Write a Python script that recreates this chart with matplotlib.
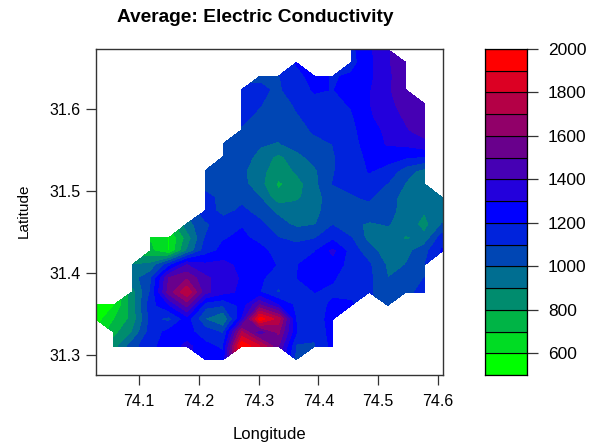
import numpy as np
import matplotlib
matplotlib.use('Agg')
import matplotlib.pyplot as plt

plt.rcParams['font.family'] = ['Liberation Sans', 'DejaVu Sans']

n = np.nan

lons = [74.028, 74.058, 74.089, 74.119, 74.150, 74.180, 74.211, 74.241, 74.272, 74.302,
        74.333, 74.363, 74.394, 74.424, 74.455, 74.485, 74.516, 74.546, 74.577, 74.607]
lats = [31.673, 31.657, 31.640, 31.624, 31.607, 31.591, 31.575, 31.558, 31.542, 31.525, 31.509, 31.492,
        31.476, 31.460, 31.443, 31.427, 31.410, 31.394, 31.377, 31.361, 31.344, 31.328, 31.311, 31.295]

# values, one row per latitude, top row first
ec = [
    [n, n, n, n, n, n, n, n, n, n, n, n, n, n, 1170, 1280, 1385, n, n, n],
    [n, n, n, n, n, n, n, n, n, n, n, 1205, n, n, 1160, 1270, 1385, 1470, n, n],
    [n, n, n, n, n, n, n, n, n, 1090, 1090, 1170, 1230, 1190, 1215, 1275, 1370, 1480, n, n],
    [n, n, n, n, n, n, n, n, 1110, 1110, 1090, 1130, 1215, 1195, 1240, 1290, 1380, 1480, n, n],
    [n, n, n, n, n, n, n, n, 1130, 1105, 1060, 1110, 1150, 1170, 1210, 1295, 1370, 1440, 1490, n],
    [n, n, n, n, n, n, n, n, 1120, 1080, 1050, 1090, 1130, 1150, 1185, 1280, 1360, 1410, 1480, n],
    [n, n, n, n, n, n, n, n, 1090, 1050, 1040, 1070, 1110, 1140, 1180, 1240, 1330, 1390, 1440, n],
    [n, n, n, n, n, n, n, 1040, 1060, 1010, 990, 1040, 1080, 1100, 1170, 1230, 1310, 1320, 1370, n],
    [n, n, n, n, n, n, n, 1040, 1040, 970, 870, 960, 1040, 1090, 1150, 1220, 1230, 1210, 1190, n],
    [n, n, n, n, n, n, 1070, 1040, 1020, 930, 840, 910, 980, 1095, 1130, 1205, 1170, 1040, 960, n],
    [n, n, n, n, n, n, 1060, 1040, 1030, 930, 780, 850, 970, 1100, 1120, 1170, 1090, 990, 920, n],
    [n, n, n, n, n, n, 1130, 1070, 1070, 1000, 830, 880, 950, 1060, 1090, 1110, 1040, 960, 910, 980],
    [n, n, n, n, n, n, 1150, 1060, 1120, 1060, 970, 950, 970, 1050, 1060, 1060, 1030, 960, 905, 970],
    [n, n, n, n, n, 950, 1080, 1150, 1190, 1120, 1040, 970, 990, 1090, 1020, 985, 1005, 960, 860, 1000],
    [n, n, n, 690, 590, 830, 1100, 1190, 1220, 1170, 1100, 1080, 1090, 1170, 1100, 960, 950, 885, 920, 1150],
    [n, n, n, 720, 590, 900, 1150, 1230, 1250, 1230, 1160, 1130, 1190, 1320, 1150, 1040, 940, 960, 1060, 1210],
    [n, n, 900, 920, 1150, 1400, 1320, 1330, 1270, 1250, 1190, 1190, 1270, 1260, 1150, 1110, 980, 1000, 1090, n],
    [n, n, 960, 1060, 1500, 1580, 1420, 1340, 1290, 1220, 1130, 1195, 1260, 1210, 1140, 1120, 998, 1050, 1100, n],
    [n, n, 850, 1100, 1540, 1780, 1430, 1330, 1280, 1200, 1080, 1195, 1200, 1180, 1180, 1110, 1040, 1080, 1120, n],
    [520, 590, 850, 1150, 1290, 1530, 1130, 1100, 1230, 1500, 1300, 1170, 1150, 1220, 1210, n, 1060, n, n, n],
    [540, 690, 830, 1120, 1060, 1240, 990, 880, 1300, 1950, 1750, 1180, 1160, 1230, n, n, n, n, n, n],
    [n, 760, 900, 1140, 1230, 1230, 1150, 1080, 1700, 1400, 1620, 1200, 1120, 1240, n, n, n, n, n, n],
    [n, 850, 1050, 1180, 1230, 1330, 1220, 1180, 1990, 1800, 1500, 1080, 1090, 1230, n, n, n, n, n, n],
    [n, n, n, n, n, n, 1230, 1230, n, n, n, 1050, n, n, n, n, n, n, n, n],
]

levels = [500, 600, 700, 800, 900, 1000, 1100, 1200, 1300, 1400, 1500, 1600, 1700, 1800, 1900, 2000]
colors = ['#00ff00', '#00dc23', '#00b446', '#008c6e', '#006e91', '#0046b4', '#0023dc', '#0000ff',
          '#2300dc', '#4600b4', '#69008c', '#910069', '#b40046', '#dc0023', '#ff0000']
xticks = [74.1, 74.2, 74.3, 74.4, 74.5, 74.6]
yticks = [31.3, 31.4, 31.5, 31.6]
cticks = [600, 800, 1000, 1200, 1400, 1600, 1800, 2000]

W, H = 592, 445
fig = plt.figure(figsize=(W / 100, H / 100), dpi=100)

ax = fig.add_axes([95.5 / W, 1 - 375 / H, (443 - 95.5) / W, (375 - 49) / H])
cs = ax.contourf(lons, lats, np.ma.masked_invalid(ec), levels=levels, colors=colors)
cs.set_edgecolor('face')
cs.set_linewidth(0.3)
ax.set_xlim(74.0273, 74.6084)
ax.set_ylim(31.2756, 31.6738)
ax.set_xticks(xticks)
ax.set_xticklabels([str(v) for v in xticks])
ax.set_yticks(yticks)
ax.set_yticklabels([str(v) for v in yticks])
ax.tick_params(length=7, width=0.9, labelsize=11.5, color='#333333', pad=4)
ax.tick_params(axis='x', pad=7)
for s in ax.spines.values():
    s.set_linewidth(1.0)
    s.set_color('#333333')

fig.text(255 / W, 1 - 17 / H, 'Average: Electric Conductivity', ha='center', va='center',
         fontsize=13.8, fontweight='bold')
fig.text(269 / W, 1 - 434 / H, 'Longitude', ha='center', va='center', fontsize=12)
fig.text(24 / W, 1 - 211 / H, 'Latitude', ha='center', va='center', rotation=90, fontsize=11)

cax = fig.add_axes([485 / W, 1 - 375 / H, 42 / W, 326 / H])
for lo, hi, c in zip(levels[:-1], levels[1:], colors):
    cax.bar(0, hi - lo, bottom=lo, width=1, color=c, edgecolor='black', linewidth=0.8)
cax.set_xlim(-0.5, 0.5)
cax.set_ylim(500, 2000)
cax.set_xticks([])
cax.set_yticks(cticks)
cax.yaxis.tick_right()
cax.tick_params(length=8, width=0.9, labelsize=12.5, color='#333333', pad=7)
for s in cax.spines.values():
    s.set_linewidth(0.9)

fig.savefig('out.png', dpi=100)
